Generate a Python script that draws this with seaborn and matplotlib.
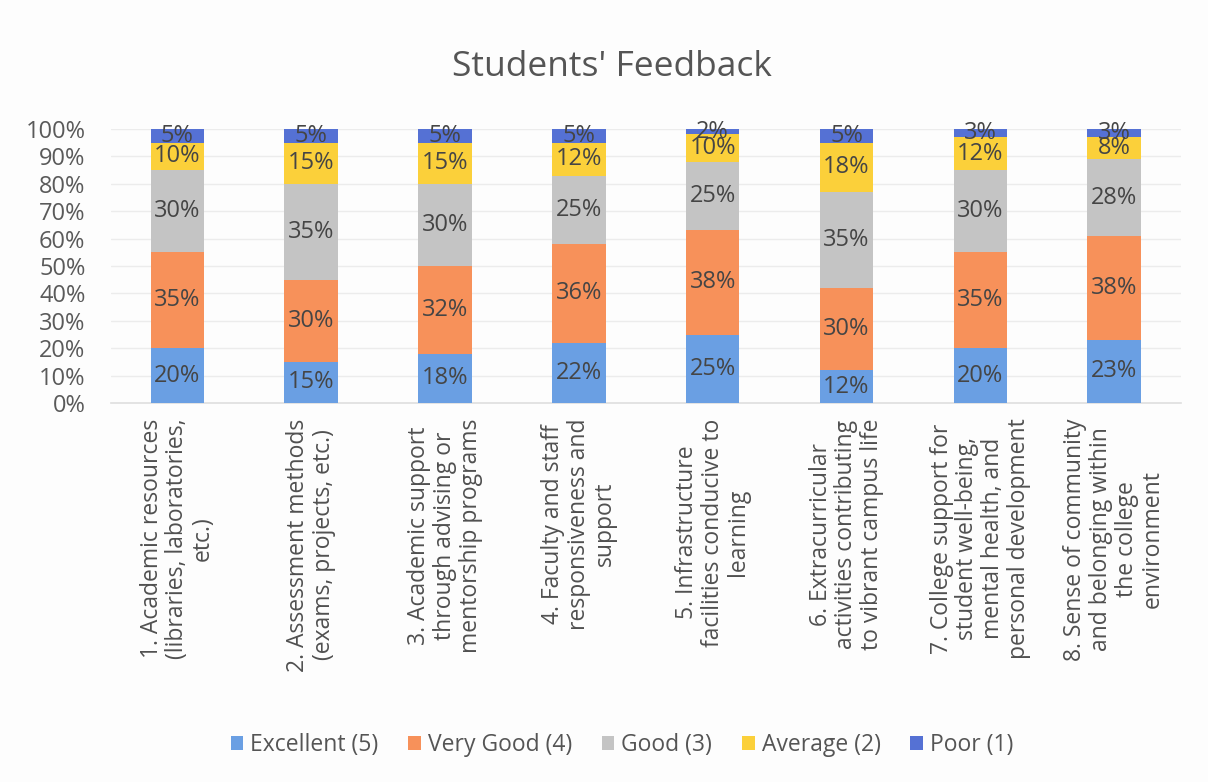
import matplotlib
matplotlib.use("Agg")
import matplotlib.pyplot as plt
from matplotlib.patches import Patch
import seaborn as sns
import numpy as np
import pandas as pd

categories = [
    "1. Academic resources\n(libraries, laboratories,\netc.)",
    "2. Assessment methods\n(exams, projects, etc.)",
    "3. Academic support\nthrough advising or\nmentorship programs",
    "4. Faculty and staff\nresponsiveness and\nsupport",
    "5. Infrastructure\nfacilities conducive to\nlearning",
    "6. Extracurricular\nactivities contributing\nto vibrant campus life",
    "7. College support for\nstudent well-being,\nmental health, and\npersonal development",
    "8. Sense of community\nand belonging within\nthe college\nenvironment",
]
series_names = ["Excellent (5)", "Very Good (4)", "Good (3)", "Average (2)", "Poor (1)"]
excellent = [20, 15, 18, 22, 25, 12, 20, 23]
very_good = [35, 30, 32, 36, 38, 30, 35, 38]
good      = [30, 35, 30, 25, 25, 35, 30, 28]
average   = [10, 15, 15, 12, 10, 18, 12, 8]
poor      = [5, 5, 5, 5, 2, 5, 3, 3]
yticks = [0, 10, 20, 30, 40, 50, 60, 70, 80, 90, 100]
title = "Students' Feedback"

colors = ["#6A9FE3", "#F7915A", "#C4C4C4", "#FBD03A", "#5571D4"]
series = [excellent, very_good, good, average, poor]

sns.set_theme(style="white")
plt.rcParams["font.family"] = ["Open Sans", "DejaVu Sans"]

fig = plt.figure(figsize=(12.08, 7.82), dpi=100, facecolor="#FDFDFD")
ax = fig.add_axes([110.5 / 1208, 1 - 403 / 782, (1181 - 110.5) / 1208, 274 / 782])
ax.set_facecolor("#FDFDFD")

bottom = np.zeros(len(categories))
for name, vals, col in zip(series_names, series, colors):
    df = pd.DataFrame({"cat": categories, "val": np.array(vals, dtype=float) / 100})
    sns.barplot(data=df, x="cat", y="val", order=categories, color=col,
                width=0.4, bottom=bottom, ax=ax, errorbar=None, saturation=1,
                linewidth=0, zorder=3)
    cont = ax.containers[-1]
    ax.bar_label(cont, labels=[f"{v}%" for v in vals], label_type="center",
                 fontsize=17, color="#454545", zorder=4)
    bottom = bottom + df["val"].values

ax.set_ylim(0, 1.0)
ax.set_xlim(-0.5, len(categories) - 0.5)
ax.set_yticks([t / 100 for t in yticks])
ax.set_yticklabels([f"{t}%" for t in yticks], fontsize=17, color="#5A5A5A")
ax.tick_params(axis="y", length=0, pad=18)
ax.tick_params(axis="x", length=0, pad=11)
ax.set_xticks(range(len(categories)))
ax.set_xticklabels(categories, rotation=90, fontsize=16.5, color="#505050",
                   ha="center", va="top", multialignment="center", linespacing=1.1)
ax.yaxis.grid(True, color="#ECECEC", linewidth=1, zorder=0)
ax.set_axisbelow(True)
ax.set_xlabel("")
ax.set_ylabel("")
for s in ["top", "right", "left"]:
    ax.spines[s].set_visible(False)
ax.spines["bottom"].set_color("#E0E0E0")

fig.text(612 / 1208, 1 - 67 / 782, title, fontsize=25.5, color="#555555",
         ha="center", va="center")

handles = [Patch(facecolor=c, edgecolor="none", label=n) for n, c in zip(series_names, colors)]
fig.legend(handles=handles, loc="center", bbox_to_anchor=(622 / 1208, 1 - 745 / 782),
           ncol=5, frameon=False, fontsize=16.5, handlelength=0.55, handleheight=0.55,
           handletextpad=0.3, columnspacing=1.3, labelcolor="#555555")

fig.savefig("out.png", dpi=100, facecolor=fig.get_facecolor())
